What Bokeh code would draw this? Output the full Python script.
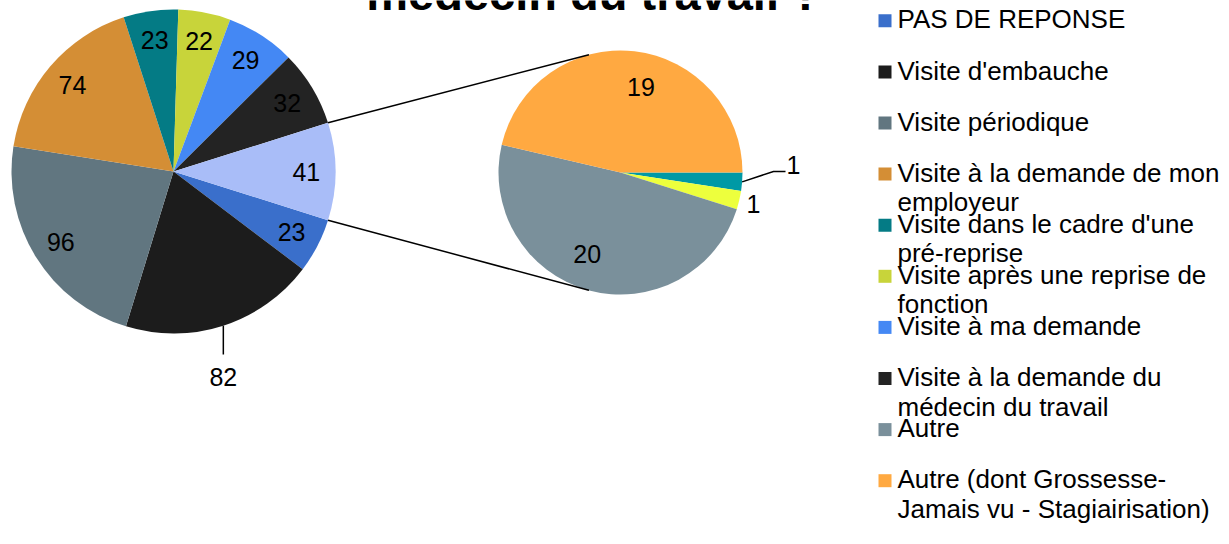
from math import pi, cos, sin
from bokeh.plotting import figure
from bokeh.models import Range1d
from bokeh.core.properties import value
from bokeh.embed import file_html
from bokeh.resources import INLINE

# ---------------- data ----------------
title_text = "médecin du travail ?"

main_categories = [
    "PAS DE REPONSE",
    "Visite d'embauche",
    "Visite périodique",
    "Visite à la demande de mon\nemployeur",
    "Visite dans le cadre d'une\npré-reprise",
    "Visite après une reprise de\nfonction",
    "Visite à ma demande",
    "Visite à la demande du\nmédecin du travail",
]
main_values = [23, 82, 96, 74, 23, 22, 29, 32]
main_colors = ["#3A6FCB", "#1C1C1C", "#617680", "#D48E35",
               "#047B85", "#C8D43A", "#4488F4", "#232323"]
other_color = "#A9BDF8"

second_categories = ["", "", "Autre", "Autre (dont Grossesse-\nJamais vu - Stagiairisation)"]
second_values = [1, 1, 20, 19]
second_colors = ["#0099A5", "#EDFF3D", "#7A909B", "#FFA941"]

legend_labels = main_categories + [second_categories[2], second_categories[3]]
legend_colors = main_colors + [second_colors[2], second_colors[3]]

# ---------------- layout ----------------
W, H = 1229, 544
def X(x):
    return x
def Y(y):
    return H - y

FONT = value("Liberation Sans")
c1 = (X(173), Y(171)); r1 = 162
c2 = (X(620), Y(172)); r2 = 122

p = figure(width=W, height=H, x_range=Range1d(0, W), y_range=Range1d(0, H),
           min_border=0, toolbar_location=None, output_backend="svg")
p.axis.visible = False
p.grid.visible = False
p.outline_line_color = None
p.background_fill_color = "white"
p.border_fill_color = "white"

other_total = sum(second_values)
total = sum(main_values) + other_total
half = other_total / total * pi

# main pie (clockwise from lower edge of the combined slice)
starts, ends = [], []
a = -half
for v in main_values:
    hi = a
    lo = a - v / total * 2 * pi
    starts.append(lo); ends.append(hi)
    a = lo
p.wedge(x=[c1[0]] * len(main_values), y=[c1[1]] * len(main_values), radius=r1,
        start_angle=starts, end_angle=ends, fill_color=main_colors, line_color=None)
p.wedge(x=[c1[0]], y=[c1[1]], radius=r1, start_angle=[-half], end_angle=[half],
        fill_color=other_color, line_color=None)

outside_index = 1  # label drawn outside with a leader line
lx, ly, lt = [], [], []
for i, (v, s, e) in enumerate(zip(main_values, starts, ends)):
    m = (s + e) / 2
    if i == outside_index:
        ex = c1[0] + r1 * cos(m); ey = c1[1] + r1 * sin(m)
        p.line([ex, ex], [ey, Y(354)], line_color="black", line_width=1.5)
        p.text(x=[ex], y=[Y(376)], text=[str(v)], text_font=FONT, text_font_size="25px",
               text_align="center", text_baseline="middle", text_color="black")
    else:
        lx.append(c1[0] + 0.82 * r1 * cos(m)); ly.append(c1[1] + 0.82 * r1 * sin(m)); lt.append(str(v))
lx.append(c1[0] + 0.82 * r1); ly.append(c1[1]); lt.append(str(other_total))
p.text(x=lx, y=ly, text=lt, text_font=FONT, text_font_size="25px",
       text_align="center", text_baseline="middle", text_color="black")

# second pie (clockwise from 3 o'clock)
s2, e2 = [], []
a = 0.0
for v in second_values:
    hi = a
    lo = a - v / other_total * 2 * pi
    s2.append(lo); e2.append(hi)
    a = lo
p.wedge(x=[c2[0]] * len(second_values), y=[c2[1]] * len(second_values), radius=r2,
        start_angle=s2, end_angle=e2, fill_color=second_colors, line_color=None)

# connector lines
conn = 105 * pi / 180
for sgn in (1, -1):
    p.line([c1[0] + r1 * cos(sgn * half), c2[0] + r2 * cos(sgn * conn)],
           [c1[1] + r1 * sin(sgn * half), c2[1] + r2 * sin(sgn * conn)],
           line_color="black", line_width=1.5)

# second pie labels
for i, (v, s, e) in enumerate(zip(second_values, s2, e2)):
    m = (s + e) / 2
    if i == 0:
        ex = c2[0] + r2 * cos(m); ey = c2[1] + r2 * sin(m)
        p.line([ex, X(773), X(785)], [ey, Y(171), Y(171)], line_color="black", line_width=1.5)
        p.text(x=[X(786)], y=[Y(164)], text=[str(v)], text_font=FONT, text_font_size="25px",
               text_align="left", text_baseline="middle", text_color="black")
    elif i == 1:
        p.text(x=[c2[0] + 1.12 * r2 * cos(m)], y=[c2[1] + 1.12 * r2 * sin(m)], text=[str(v)],
               text_font=FONT, text_font_size="25px", text_align="center",
               text_baseline="middle", text_color="black")
    else:
        p.text(x=[c2[0] + 0.72 * r2 * cos(m - 0.12)], y=[c2[1] + 0.72 * r2 * sin(m - 0.12)], text=[str(v)],
               text_font=FONT, text_font_size="25px", text_align="center",
               text_baseline="middle", text_color="black")

# legend
sq_x, sq_y, tx, ty, tt = [], [], [], [], []
for i, lab in enumerate(legend_labels):
    cy = 20.3 + 51.1 * i
    sq_x.append(X(884.5)); sq_y.append(Y(cy))
    for j, line in enumerate(lab.split("\n")):
        tx.append(X(897)); ty.append(Y(cy - 1.4 + 29.5 * j)); tt.append(line)
p.rect(x=sq_x, y=sq_y, width=13, height=13, fill_color=legend_colors, line_color=None)
p.text(x=tx, y=ty, text=tt, text_font=FONT, text_font_size="26px",
       text_align="left", text_baseline="middle", text_color="black")

# title (mostly above the visible area, as in the reference)
p.text(x=[X(593)], y=[Y(-7)], text=[title_text], text_font=FONT, text_font_size="47px",
       text_font_style="bold", text_align="center", text_baseline="middle", text_color="black")

open("out.html", "w").write(file_html(p, INLINE))
